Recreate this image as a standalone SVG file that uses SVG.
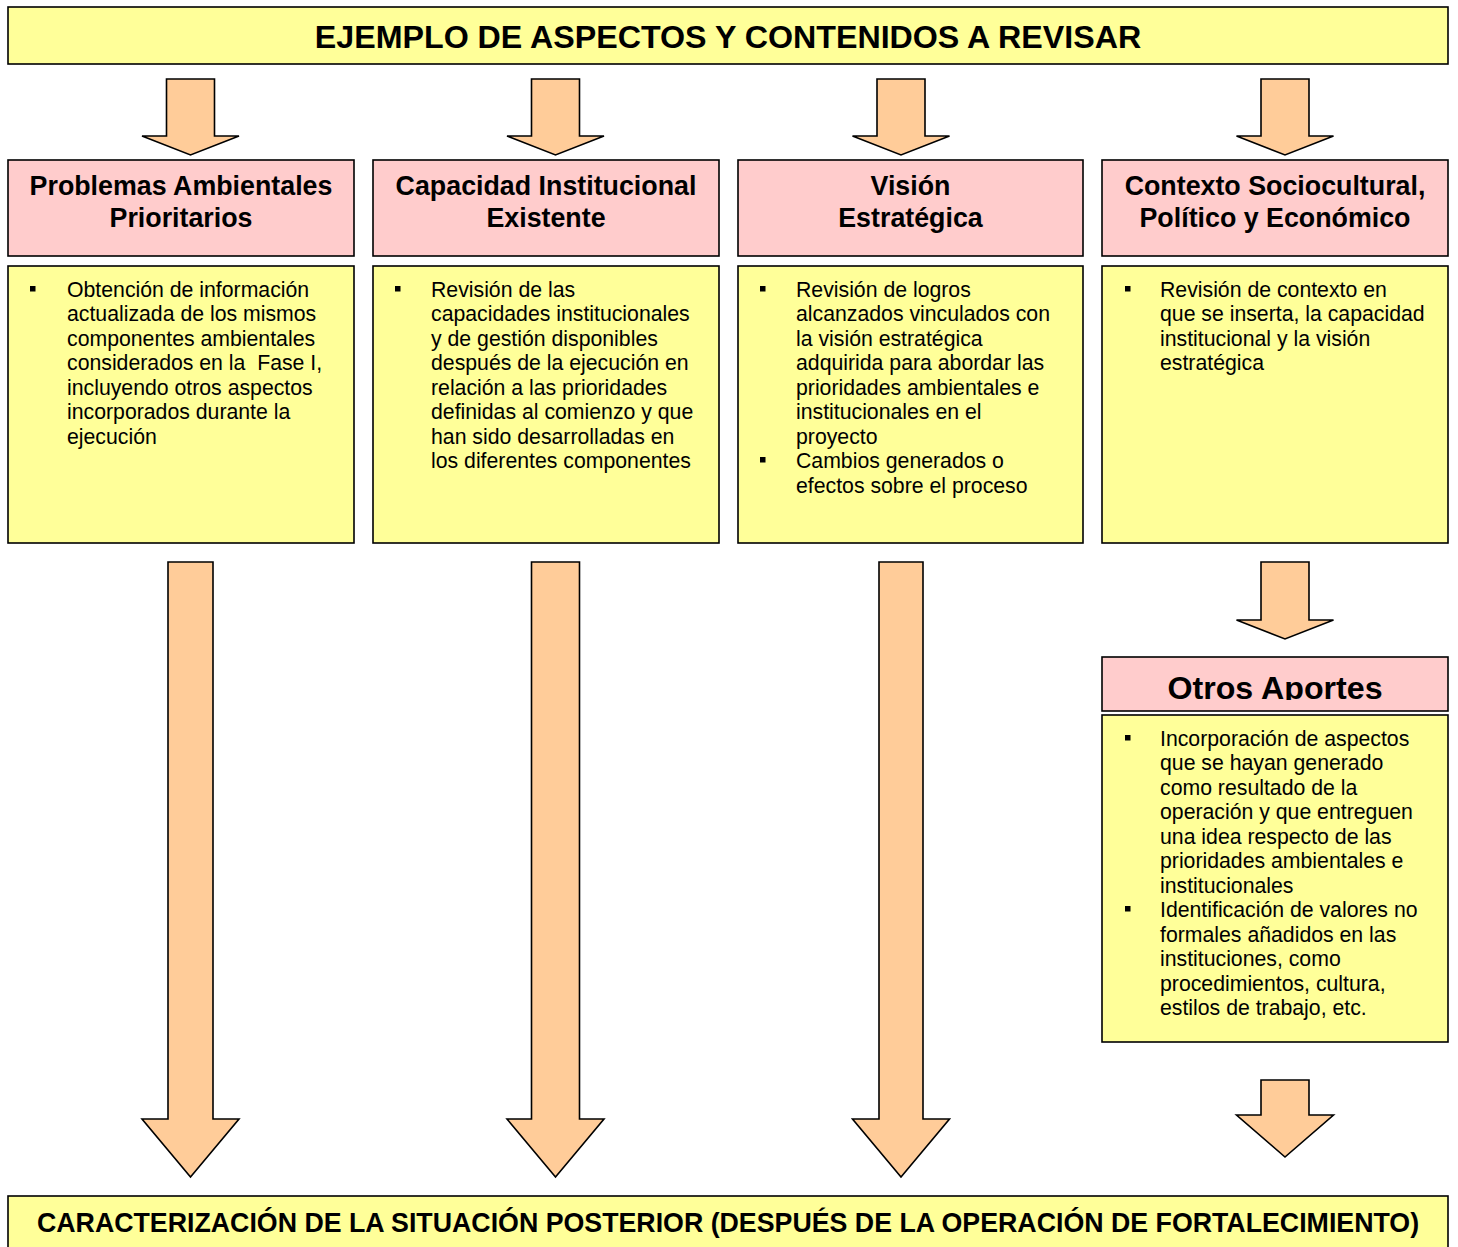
<svg xmlns="http://www.w3.org/2000/svg" width="1458" height="1247" viewBox="0 0 1458 1247">
<defs>
<style>
.yb{fill:#FFFF99;stroke:#000;stroke-width:1.6}
.pb{fill:#FFCCCC;stroke:#000;stroke-width:1.6}
.ar{fill:#FFCC99;stroke:#000;stroke-width:1.6;stroke-linejoin:miter}
.t{font-family:"Liberation Sans",Arial,sans-serif;font-weight:bold;fill:#000;text-anchor:middle}
.h{font-family:"Liberation Sans",Arial,sans-serif;font-weight:bold;font-size:26.8px;fill:#000;text-anchor:middle}
.b{font-family:"Liberation Sans",Arial,sans-serif;font-size:21.25px;fill:#000;white-space:pre}
.bu{fill:#000}
</style>
<clipPath id="otrosClip"><rect x="1103" y="658" width="344" height="42"/></clipPath>
</defs>
<rect width="1458" height="1247" fill="#fff"/>

<g id="title">
<rect class="yb" x="8" y="7" width="1440" height="57"/>
<text class="t" x="728" y="47.5" font-size="32.2">EJEMPLO DE ASPECTOS Y CONTENIDOS A REVISAR</text>
</g>

<g id="connectors">
<polygon class="ar" points="166.5,79 214.5,79 214.5,136 239,136 190.5,155 142,136 166.5,136"/>
<polygon class="ar" points="531.5,79 579.5,79 579.5,136 604,136 555.5,155 507,136 531.5,136"/>
<polygon class="ar" points="877,79 925,79 925,136 949.5,136 901,155 852.5,136 877,136"/>
<polygon class="ar" points="1261,79 1309,79 1309,136 1333.5,136 1285,155 1236.5,136 1261,136"/>

<polygon class="ar" points="168,562 213,562 213,1119 239,1119 190.5,1177 142,1119 168,1119"/>
<polygon class="ar" points="531.5,562 579.5,562 579.5,1119 604,1119 555.5,1177 507,1119 531.5,1119"/>
<polygon class="ar" points="879,562 923,562 923,1119 949.5,1119 901,1177 852.5,1119 879,1119"/>

<polygon class="ar" points="1261,562 1309,562 1309,620 1333.5,620 1285,639 1236.5,620 1261,620"/>
<polygon class="ar" points="1261,1080 1309,1080 1309,1115 1333.5,1115 1285,1157 1236.5,1115 1261,1115"/>
</g>

<g id="problemas">
<rect class="pb" x="8" y="160" width="346" height="96"/>
<text class="h" x="181" y="195">Problemas Ambientales</text>
<text class="h" x="181" y="227">Prioritarios</text>
<rect class="yb" x="8" y="266" width="346" height="277"/>
<rect class="bu" x="30" y="286" width="5.5" height="5.5"/>
<text class="b" x="67" y="297">Obtención de información</text>
<text class="b" x="67" y="321.45">actualizada de los mismos</text>
<text class="b" x="67" y="345.9">componentes ambientales</text>
<text class="b" x="67" y="370.35">considerados en la  Fase I,</text>
<text class="b" x="67" y="394.8">incluyendo otros aspectos</text>
<text class="b" x="67" y="419.25">incorporados durante la</text>
<text class="b" x="67" y="443.7">ejecución</text>
</g>

<g id="capacidad">
<rect class="pb" x="373" y="160" width="346" height="96"/>
<text class="h" x="546" y="195">Capacidad Institucional</text>
<text class="h" x="546" y="227">Existente</text>
<rect class="yb" x="373" y="266" width="346" height="277"/>
<rect class="bu" x="395" y="286" width="5.5" height="5.5"/>
<text class="b" x="431" y="297">Revisión de las</text>
<text class="b" x="431" y="321.45">capacidades institucionales</text>
<text class="b" x="431" y="345.9">y de gestión disponibles</text>
<text class="b" x="431" y="370.35">después de la ejecución en</text>
<text class="b" x="431" y="394.8">relación a las prioridades</text>
<text class="b" x="431" y="419.25">definidas al comienzo y que</text>
<text class="b" x="431" y="443.7">han sido desarrolladas en</text>
<text class="b" x="431" y="468.15">los diferentes componentes</text>
</g>

<g id="vision">
<rect class="pb" x="738" y="160" width="345" height="96"/>
<text class="h" x="910.5" y="195">Visión</text>
<text class="h" x="910.5" y="227">Estratégica</text>
<rect class="yb" x="738" y="266" width="345" height="277"/>
<rect class="bu" x="760" y="286" width="5.5" height="5.5"/>
<text class="b" x="796" y="297">Revisión de logros</text>
<text class="b" x="796" y="321.45">alcanzados vinculados con</text>
<text class="b" x="796" y="345.9">la visión estratégica</text>
<text class="b" x="796" y="370.35">adquirida para abordar las</text>
<text class="b" x="796" y="394.8">prioridades ambientales e</text>
<text class="b" x="796" y="419.25">institucionales en el</text>
<text class="b" x="796" y="443.7">proyecto</text>
<rect class="bu" x="760" y="457" width="5.5" height="5.5"/>
<text class="b" x="796" y="468.15">Cambios generados o</text>
<text class="b" x="796" y="492.6">efectos sobre el proceso</text>
</g>

<g id="contexto">
<rect class="pb" x="1102" y="160" width="346" height="96"/>
<text class="h" x="1275" y="195">Contexto Sociocultural,</text>
<text class="h" x="1275" y="227">Político y Económico</text>
<rect class="yb" x="1102" y="266" width="346" height="277"/>
<rect class="bu" x="1125" y="286" width="5.5" height="5.5"/>
<text class="b" x="1160" y="297">Revisión de contexto en</text>
<text class="b" x="1160" y="321.45">que se inserta, la capacidad</text>
<text class="b" x="1160" y="345.9">institucional y la visión</text>
<text class="b" x="1160" y="370.35">estratégica</text>
</g>

<g id="otros">
<rect class="pb" x="1102" y="657" width="346" height="54"/>
<text class="t" x="1275" y="698.5" font-size="32.2" clip-path="url(#otrosClip)">Otros Aportes</text>
<rect class="yb" x="1102" y="715" width="346" height="327"/>
<rect class="bu" x="1125" y="735" width="5.5" height="5.5"/>
<text class="b" x="1160" y="746">Incorporación de aspectos</text>
<text class="b" x="1160" y="770.45">que se hayan generado</text>
<text class="b" x="1160" y="794.9">como resultado de la</text>
<text class="b" x="1160" y="819.35">operación y que entreguen</text>
<text class="b" x="1160" y="843.8">una idea respecto de las</text>
<text class="b" x="1160" y="868.25">prioridades ambientales e</text>
<text class="b" x="1160" y="892.7">institucionales</text>
<rect class="bu" x="1125" y="906" width="5.5" height="5.5"/>
<text class="b" x="1160" y="917.15">Identificación de valores no</text>
<text class="b" x="1160" y="941.6">formales añadidos en las</text>
<text class="b" x="1160" y="966.05">instituciones, como</text>
<text class="b" x="1160" y="990.5">procedimientos, cultura,</text>
<text class="b" x="1160" y="1014.95">estilos de trabajo, etc.</text>
</g>

<g id="caracterizacion">
<rect class="yb" x="8" y="1196" width="1440" height="70"/>
<text class="t" x="728" y="1232" font-size="26.75">CARACTERIZACIÓN DE LA SITUACIÓN POSTERIOR (DESPUÉS DE LA OPERACIÓN DE FORTALECIMIENTO)</text>
</g>
</svg>
